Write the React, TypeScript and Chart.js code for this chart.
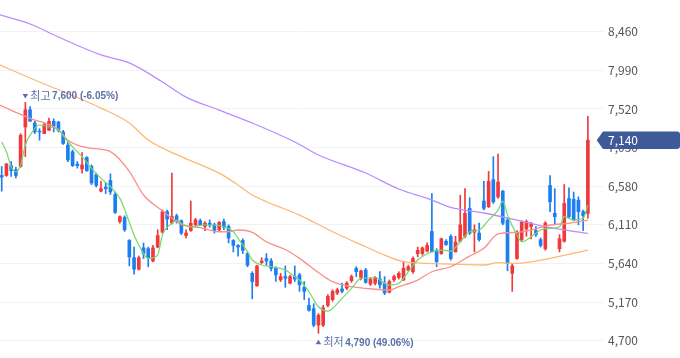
import React, { useEffect, useRef } from 'react';
import { Chart, registerables } from 'chart.js';

Chart.register(...registerables);

const RED = '#f0393c';
const BLUE = '#1c7ef0';
const NOTE = '#5d70a7';
const TAG = '#3f5a98';
const FONT = "'Noto Sans CJK KR', 'Noto Sans', sans-serif";

const opens = [
  6710, 6710, 6830, 6780, 6820, 7300, 7510, 7350, 7250, 7220,
  7260, 7370, 7360, 7240, 7080, 7000, 6850, 6790, 6930, 6820,
  6720, 6520, 6570, 6650, 6480, 6150, 6200, 5920, 5710, 5570,
  5830, 5820, 5670, 5840, 6020, 6270, 6130, 6220, 6160, 5980,
  6040, 6110, 6160, 6090, 6130, 6110, 6050, 6150, 6090, 5920,
  5860, 5920, 5760, 5520, 5370, 5650, 5700, 5670, 5580, 5440,
  5480, 5400, 5480, 5500, 5350, 5130, 5090, 4890, 4890, 5130,
  5200, 5280, 5330, 5340, 5430, 5580, 5470, 5560, 5390, 5400,
  5450, 5400, 5290, 5440, 5470, 5440, 5560, 5540, 5760, 5760,
  5790, 6030, 5800, 5760, 5910, 5970, 5780, 5910, 5970, 6310,
  6020, 6010, 6400, 6330, 6660, 6450, 6520, 6170, 5520, 5700,
  5930, 6060, 6090, 6040, 5930, 5820, 6590, 6250, 5820, 5910,
  6430, 6420, 6410, 6270, 6250,
];
const highs = [
  6820, 6860, 6880, 6810, 7220, 7600, 7550, 7370, 7280, 7350,
  7410, 7400, 7370, 7260, 7120, 7020, 6880, 6990, 6940, 6840,
  6740, 6640, 6620, 6730, 6510, 6220, 6220, 5930, 5840, 5730,
  5890, 5840, 5860, 6050, 6290, 6290, 6740, 6240, 6170, 6050,
  6400, 6190, 6180, 6150, 6170, 6130, 6150, 6180, 6110, 5930,
  5870, 5940, 5780, 5540, 5620, 5710, 5760, 5700, 5600, 5520,
  5610, 5500, 5610, 5520, 5420, 5220, 5150, 5030, 5130, 5260,
  5320, 5340, 5400, 5420, 5500, 5600, 5560, 5580, 5470, 5480,
  5540, 5480, 5440, 5500, 5540, 5660, 5620, 5720, 5840, 5840,
  5890, 6490, 5820, 5950, 5930, 5990, 5970, 6470, 6550, 6440,
  6110, 6130, 6640, 6760, 6940, 6970, 6530, 6190, 5640, 6040,
  6160, 6170, 6140, 6090, 5950, 6150, 6710, 6550, 5990, 6600,
  6560, 6510, 6450, 6290, 7430,
];
const lows = [
  6520, 6700, 6700, 6680, 6810, 6940, 7370, 7220, 7140, 7220,
  7260, 7240, 7240, 7090, 6880, 6820, 6800, 6740, 6760, 6600,
  6570, 6510, 6490, 6480, 6250, 6130, 6030, 5610, 5510, 5560,
  5700, 5600, 5660, 5830, 6010, 6050, 6120, 6130, 5990, 5950,
  6030, 6100, 6100, 6040, 6080, 6010, 6040, 6050, 5890, 5780,
  5730, 5760, 5600, 5210, 5360, 5640, 5620, 5550, 5420, 5420,
  5350, 5390, 5420, 5300, 5200, 5060, 4870, 4790, 4870, 5110,
  5180, 5260, 5280, 5320, 5410, 5480, 5440, 5400, 5370, 5380,
  5340, 5260, 5280, 5420, 5450, 5430, 5550, 5520, 5720, 5740,
  5780, 5780, 5600, 5750, 5860, 5680, 5780, 5900, 5950, 5990,
  5780, 5910, 6290, 6320, 6370, 6430, 6110, 5550, 5300, 5690,
  5910, 5970, 5940, 5970, 5840, 5800, 6270, 6110, 5780, 5900,
  6190, 6160, 6110, 6040, 6190,
];
const closes = [
  6690, 6850, 6770, 6710, 7200, 7510, 7370, 7240, 7240, 7330,
  7370, 7310, 7260, 7100, 6900, 6830, 6830, 6840, 6770, 6620,
  6590, 6550, 6550, 6510, 6260, 6210, 6050, 5720, 5570, 5710,
  5760, 5710, 5830, 5980, 6270, 6180, 6210, 6150, 6010, 6010,
  6130, 6170, 6110, 6130, 6110, 6040, 6140, 6080, 5950, 5860,
  5840, 5800, 5620, 5420, 5610, 5670, 5670, 5580, 5500, 5480,
  5460, 5480, 5450, 5380, 5300, 5070, 4890, 5010, 5100, 5240,
  5300, 5320, 5300, 5400, 5480, 5540, 5550, 5410, 5450, 5470,
  5380, 5280, 5420, 5480, 5520, 5580, 5600, 5700, 5800, 5830,
  5860, 5780, 5660, 5940, 5870, 5700, 5900, 6110, 6250, 6010,
  6050, 5930, 6310, 6640, 6390, 6630, 6130, 5640, 5610, 6020,
  6140, 6150, 6130, 5990, 5860, 6130, 6390, 6210, 5940, 6370,
  6210, 6170, 6270, 6220, 7140,
];

// moving averages: [candle index, value]
const ma5 = [
  [0, 7121], [1, 6999], [2, 6817], [3, 6756], [4, 6838], [5, 7081], [6, 7200], [8, 7325],
  [10, 7304], [12, 7264], [14, 7121], [17, 6939], [19, 6798], [21, 6676], [23, 6574],
  [25, 6432], [26, 6300], [28, 5986], [30, 5763], [31, 5702], [33, 5742], [34, 5986],
  [36, 6128], [37, 6168], [38, 6128], [40, 6087], [43, 6108], [45, 6108], [47, 6087],
  [49, 6026], [50, 5946], [52, 5783], [53, 5682], [55, 5621], [57, 5600], [60, 5560],
  [62, 5478], [63, 5438], [65, 5296], [67, 5113], [69, 5061], [70, 5094], [72, 5216],
  [74, 5337], [76, 5459], [79, 5466], [81, 5398], [82, 5377], [84, 5398], [86, 5539],
  [88, 5682], [91, 5783], [93, 5803], [95, 5791], [97, 5904], [99, 6026], [101, 6047],
  [103, 6168], [105, 6290], [106, 6400], [107, 6229], [109, 5986], [110, 5904],
  [112, 5965], [114, 6047], [116, 6067], [118, 6087], [119, 6209], [121, 6168],
  [123, 6189], [124, 6351],
];
const ma20 = [
  [-1, 7580], [7, 7385], [9, 7350], [12, 7270], [14, 7140], [16, 7081], [19, 7041],
  [23, 7000], [27, 6760], [30, 6473], [34, 6280], [36, 6189], [38, 6116], [42, 6075],
  [46, 6026], [48, 6026], [50, 6047], [53, 6019], [56, 5904], [60, 5810], [63, 5702],
  [67, 5530], [70, 5418], [74, 5357], [77, 5337], [82, 5317], [84, 5357], [88, 5438],
  [91, 5539], [95, 5600], [99, 5730], [102, 5824], [105, 6000], [109, 6019],
  [112, 6047], [116, 6108], [120, 6128], [124, 6168],
];
const ma60 = [
  [-1, 8070], [6, 7897], [21, 7531], [27, 7349], [31, 7142], [38, 6939], [46, 6740],
  [49, 6634], [53, 6473], [56, 6391], [63, 6229], [70, 6026], [77, 5843], [81, 5742],
  [85, 5661], [90, 5641], [95, 5633], [102, 5621], [105, 5649], [109, 5641],
  [116, 5702], [124, 5803],
];
const ma120 = [
  [-1, 8675], [6, 8554], [12, 8396], [21, 8177], [27, 8080], [34, 7848], [39, 7665],
  [46, 7507], [53, 7349], [62, 7118], [67, 6960], [77, 6741], [84, 6546], [91, 6412],
  [95, 6321], [102, 6254], [109, 6168], [116, 6075], [124, 6006],
];

const yTicks = [4700, 5170, 5640, 6110, 6580, 7050, 7520, 7990, 8460];
const lastPrice = 7140;
const highIdx = 5;
const highVal = 7600;
const highWord = '최고';
const highText = '7,600 (-6.05%)';
const lowIdx = 67;
const lowVal = 4790;
const lowWord = '최저';
const lowText = '4,790 (49.06%)';

const fmt = (v: number) => v.toLocaleString('en-US');

const overlayPlugin = {
  id: 'overlay',
  afterDraw(chart: any) {
    const { ctx, chartArea, scales } = chart;
    const xs = scales.x;
    const ys = scales.y;
    ctx.save();
    const drawNote = (idx: number, val: number, dy: number, up: boolean, word: string, text: string) => {
      const cx = xs.getPixelForValue(idx);
      const cy = ys.getPixelForValue(val) + dy;
      ctx.fillStyle = NOTE;
      ctx.beginPath();
      if (up) {
        ctx.moveTo(cx, cy - 2.5);
        ctx.lineTo(cx + 2.8, cy + 2);
        ctx.lineTo(cx - 2.8, cy + 2);
      } else {
        ctx.moveTo(cx - 2.8, cy - 2);
        ctx.lineTo(cx + 2.8, cy - 2);
        ctx.lineTo(cx, cy + 2.5);
      }
      ctx.closePath();
      ctx.fill();
      ctx.textBaseline = 'middle';
      ctx.textAlign = 'left';
      ctx.font = `11px ${FONT}`;
      ctx.fillText(word, cx + 5, cy);
      const w = ctx.measureText(word).width;
      ctx.font = `bold 10px 'Liberation Sans', Arial, sans-serif`;
      ctx.fillText(text, cx + 5 + w + 1.5, cy + 0.5);
    };
    drawNote(highIdx, highVal, -6.5, false, highWord, highText);
    drawNote(lowIdx, lowVal, 9, true, lowWord, lowText);

    const py = ys.getPixelForValue(lastPrice);
    const r = chartArea.right;
    const h = 8.7;
    const W = chart.width;
    ctx.fillStyle = TAG;
    ctx.beginPath();
    ctx.moveTo(r - 6.3, py);
    ctx.lineTo(r, py - h);
    ctx.lineTo(W - 3, py - h);
    ctx.quadraticCurveTo(W, py - h, W, py - h + 3);
    ctx.lineTo(W, py + h - 3);
    ctx.quadraticCurveTo(W, py + h, W - 3, py + h);
    ctx.lineTo(r, py + h);
    ctx.closePath();
    ctx.fill();
    ctx.fillStyle = '#ffffff';
    ctx.font = `12px ${FONT}`;
    ctx.textBaseline = 'middle';
    ctx.textAlign = 'left';
    ctx.fillText(fmt(lastPrice), r + 5, py + 0.5);
    ctx.restore();
  },
};

export default function App() {
  const ref = useRef<HTMLCanvasElement>(null);
  useEffect(() => {
    if (!ref.current) return;
    const idx = closes.map((_, i) => i);
    const colors = closes.map((c, i) => (c >= opens[i] ? RED : BLUE));
    const line = (pts: number[][], color: string, width: number) => ({
      type: 'line' as const,
      data: pts.map(([x, y]) => ({ x, y })),
      borderColor: color,
      borderWidth: width,
      pointRadius: 0,
      cubicInterpolationMode: 'monotone' as const,
      order: 1,
    });
    const chart = new Chart(ref.current, {
      type: 'bar',
      data: {
        datasets: [
          line(ma5, '#74d86c', 1.2),
          line(ma20, '#f8908c', 1.3),
          line(ma60, '#ffb771', 1.3),
          line(ma120, '#b88cff', 1.3),
          {
            type: 'bar',
            data: idx.map((i) => ({ x: i, y: [opens[i], closes[i]] })) as any,
            backgroundColor: colors,
            barThickness: 3,
            grouped: false,
            borderWidth: 0,
            order: 5,
          } as any,
          {
            type: 'bar',
            data: idx.map((i) => ({ x: i, y: [lows[i], highs[i]] })) as any,
            backgroundColor: colors,
            barThickness: 1,
            grouped: false,
            borderWidth: 0,
            order: 6,
          } as any,
        ],
      },
      options: {
        animation: false,
        responsive: false,
        devicePixelRatio: 1,
        layout: { padding: 0 },
        plugins: { legend: { display: false }, tooltip: { enabled: false } },
        scales: {
          x: {
            type: 'linear',
            min: -0.36,
            max: 127.2,
            offset: false,
            display: false,
          },
          y: {
            type: 'linear',
            position: 'right',
            min: 4489.5,
            max: 8846,
            afterBuildTicks: (s: any) => {
              s.ticks = yTicks.map((v) => ({ value: v }));
            },
            afterFit: (s: any) => {
              s.width = 77;
              s.paddingTop = 0;
              s.paddingBottom = 0;
            },
            grid: { color: '#f1f2f5', drawTicks: false, lineWidth: 1 },
            border: { display: false },
            ticks: {
              padding: 5,
              color: '#555555',
              font: { size: 12, family: FONT },
              autoSkip: false,
              callback: (v: any) => fmt(Number(v)),
            },
          },
        },
      } as any,
      plugins: [overlayPlugin],
    });
    return () => chart.destroy();
  }, []);
  return (
    <div style={{ position: 'absolute', left: 0, top: 0, width: 680, height: 358 }}>
      <canvas ref={ref} width={680} height={358} style={{ display: 'block' }} />
    </div>
  );
}
